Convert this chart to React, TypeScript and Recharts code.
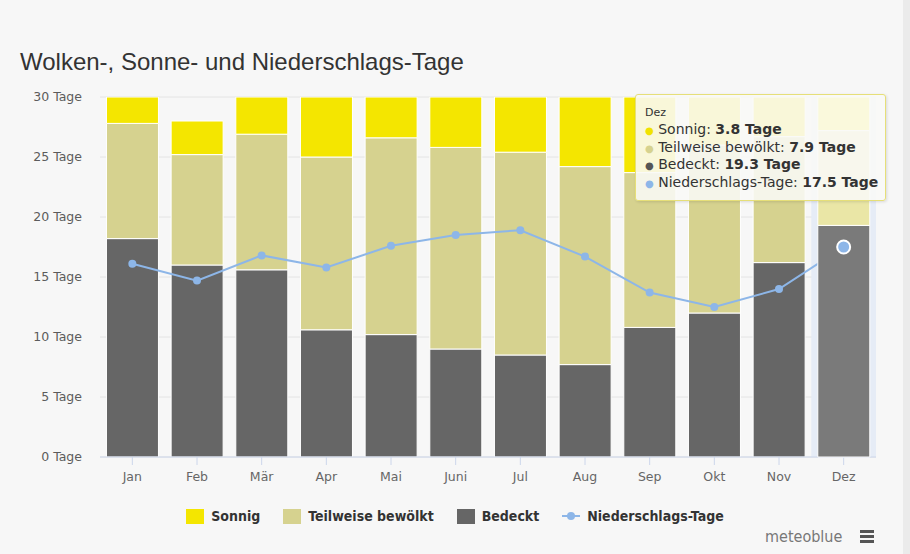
import React from 'react';
import {
  ComposedChart,
  Bar,
  Line,
  XAxis,
  YAxis,
  CartesianGrid,
  Tooltip,
  Legend,
  ReferenceArea,
} from 'recharts';

const months = ['Jan', 'Feb', 'Mär', 'Apr', 'Mai', 'Juni', 'Jul', 'Aug', 'Sep', 'Okt', 'Nov', 'Dez'];
const bedeckt = [18.2, 16.0, 15.6, 10.6, 10.2, 9.0, 8.5, 7.7, 10.8, 12.0, 16.2, 19.3];
const teilweise = [9.6, 9.2, 11.3, 14.4, 16.4, 16.8, 16.9, 16.5, 12.9, 14.0, 10.5, 7.9];
const sonnig = [3.2, 2.8, 4.1, 5.0, 4.4, 4.2, 5.6, 6.8, 6.3, 5.0, 3.3, 3.8];
const niederschlag = [16.1, 14.7, 16.8, 15.8, 17.6, 18.5, 18.9, 16.7, 13.7, 12.5, 14.0, 17.5];
const yTicks = [0, 5, 10, 15, 20, 25, 30];
const hoverIndex = 11; // Dez is hovered in the screenshot

const data = months.map((month, i) => ({
  month,
  bedeckt: bedeckt[i],
  teilweise: teilweise[i],
  sonnig: sonnig[i],
  niederschlag: niederschlag[i],
}));

const COLORS = {
  sonnig: '#f4e600',
  teilweise: '#d6d28f',
  bedeckt: '#666666',
  niederschlag: '#8db6e8',
};

const series = [
  { key: 'sonnig', name: 'Sonnig', color: COLORS.sonnig, dot: '#f0e200' },
  { key: 'teilweise', name: 'Teilweise bewölkt', color: COLORS.teilweise, dot: '#d6d28f' },
  { key: 'bedeckt', name: 'Bedeckt', color: COLORS.bedeckt, dot: '#555555' },
  { key: 'niederschlag', name: 'Niederschlags-Tage', color: COLORS.niederschlag, dot: '#8db6e8' },
];

const TooltipBox = ({ active, label, payload }: any) => {
  if (!active || !payload || !payload.length) return null;
  const row = payload[0].payload;
  return (
    <div
      style={{
        width: 233,
        background: 'rgba(249,249,247,0.88)',
        border: '1px solid #e6df78',
        borderRadius: 3,
        padding: '10px 7px 9px 9px',
        fontFamily: '"DejaVu Sans", sans-serif',
        color: '#333',
        boxShadow: '1px 1px 3px rgba(0,0,0,0.12)',
      }}
    >
      <div style={{ fontSize: 11, lineHeight: '16px', height: 16 }}>{label}</div>
      {series.map((s) => (
        <div
          key={s.key}
          style={{ fontSize: 14, lineHeight: '17.5px', height: 17.5, whiteSpace: 'nowrap' }}
        >
          <span style={{ color: s.dot, fontSize: 10, lineHeight: 0 }}>{'\u25CF'}</span> {s.name}:{' '}
          <b>{row[s.key]} Tage</b>
        </div>
      ))}
    </div>
  );
};

const LegendRow = () => (
  <div
    style={{
      display: 'flex',
      justifyContent: 'center',
      alignItems: 'center',
      gap: 23,
      fontFamily: '"DejaVu Sans Condensed", "DejaVu Sans", sans-serif',
      fontStretch: 'condensed',
      fontWeight: 'bold',
      fontSize: 14,
      color: '#333',
    }}
  >
    {series.map((s) => (
      <div key={s.key} style={{ display: 'flex', alignItems: 'center', gap: 7 }}>
        {s.key === 'niederschlag' ? (
          <svg width={18} height={14}>
            <line x1={0} y1={7} x2={18} y2={7} stroke={s.color} strokeWidth={2} />
            <circle cx={9} cy={7} r={4} fill={s.color} />
          </svg>
        ) : (
          <div style={{ width: 18, height: 15, background: s.color }} />
        )}
        <span>{s.name}</span>
      </div>
    ))}
  </div>
);

const axisFont = { fontSize: 12.5, fontFamily: '"DejaVu Sans", sans-serif' };

export default function App() {
  return (
    <div
      style={{
        position: 'fixed',
        top: 0,
        left: 0,
        width: 910,
        height: 554,
        background: '#f7f7f7',
        overflow: 'hidden',
      }}
    >
      <div
        style={{
          position: 'absolute',
          left: 20,
          top: 48,
          fontFamily: '"Liberation Sans", Arial, sans-serif',
          fontSize: 24,
          color: '#333',
          whiteSpace: 'nowrap',
        }}
      >
        Wolken-, Sonne- und Niederschlags-Tage
      </div>

      <ComposedChart
        width={910}
        height={554}
        data={data}
        margin={{ top: 97, right: 34, bottom: 67, left: 0 }}
        barCategoryGap="10%"
      >
        <CartesianGrid vertical={false} stroke="#e4e4e4" />
        <ReferenceArea
          x1={months[hoverIndex]}
          x2={months[hoverIndex]}
          fill="#e6ecf6"
          fillOpacity={1}
          stroke="none"
          ifOverflow="visible"
        />
        <XAxis
          dataKey="month"
          height={30}
          axisLine={{ stroke: '#ccd6eb' }}
          tickLine={{ stroke: '#ccd6eb' }}
          tickSize={8}
          tickMargin={7}
          interval={0}
          tick={{ fill: '#666', ...axisFont }}
        />
        <YAxis
          width={100}
          domain={[0, 30]}
          ticks={yTicks}
          allowDataOverflow
          axisLine={false}
          tickLine={false}
          tickSize={0}
          tickMargin={18}
          tickFormatter={(v) => `${v} Tage`}
          tick={{ fill: '#5c5c5c', ...axisFont }}
        />
        <Tooltip
          content={<TooltipBox />}
          active
          defaultIndex={hoverIndex}
          position={{ x: 635, y: 94 }}
          cursor={false}
          isAnimationActive={false}
          wrapperStyle={{ outline: 'none', zIndex: 10 }}
        />
        <Legend
          layout="horizontal"
          verticalAlign="middle"
          align="center"
          content={<LegendRow />}
          wrapperStyle={{ top: 508, left: 0, width: 910 }}
        />
        <Bar
          dataKey="bedeckt"
          name="Bedeckt"
          stackId="tage"
          fill={COLORS.bedeckt}
          stroke="#ffffff"
          strokeWidth={1}
          activeBar={{ fill: '#7a7a7a' }}
          isAnimationActive={false}
        />
        <Bar
          dataKey="teilweise"
          name="Teilweise bewölkt"
          stackId="tage"
          fill={COLORS.teilweise}
          stroke="#ffffff"
          strokeWidth={1}
          activeBar={{ fill: '#eae6a6' }}
          isAnimationActive={false}
        />
        <Bar
          dataKey="sonnig"
          name="Sonnig"
          stackId="tage"
          fill={COLORS.sonnig}
          stroke="#ffffff"
          strokeWidth={1}
          activeBar={{ fill: '#fff71a' }}
          isAnimationActive={false}
        />
        <Line
          type="linear"
          dataKey="niederschlag"
          name="Niederschlags-Tage"
          stroke={COLORS.niederschlag}
          strokeWidth={2}
          dot={{ r: 4, fill: COLORS.niederschlag, stroke: 'none' }}
          activeDot={{ r: 6.5, fill: COLORS.niederschlag, stroke: '#ffffff', strokeWidth: 2 }}
          isAnimationActive={false}
        />
      </ComposedChart>

      <div
        style={{
          position: 'absolute',
          left: 765,
          top: 527,
          fontFamily: '"DejaVu Sans Condensed", "DejaVu Sans", sans-serif',
          fontStretch: 'condensed',
          fontSize: 16,
          color: '#777',
        }}
      >
        meteoblue
      </div>
      <div style={{ position: 'absolute', left: 860, top: 530, width: 14 }}>
        {[0, 1, 2].map((i) => (
          <div key={i} style={{ height: 3, background: '#555', marginBottom: 2 }} />
        ))}
      </div>
      <div
        style={{ position: 'absolute', left: 903, top: 0, width: 7, height: 554, background: '#ebebeb' }}
      />
    </div>
  );
}
